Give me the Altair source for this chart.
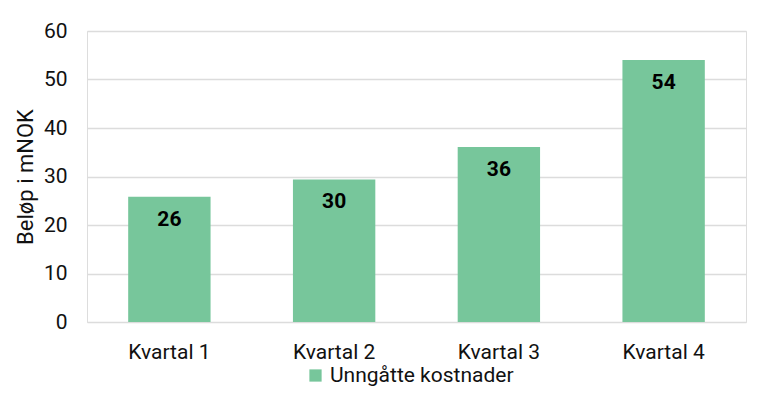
import altair as alt
import pandas as pd

categories = ["Kvartal 1", "Kvartal 2", "Kvartal 3", "Kvartal 4"]
values = [25.8, 29.4, 36.1, 54.0]
labels = ["26", "30", "36", "54"]
series = "Unngåtte kostnader"

df = pd.DataFrame({"kvartal": categories, "verdi": values, "etikett": labels, "serie": [series] * 4})

FONT = "Roboto"

base = alt.Chart(df).encode(
    x=alt.X("kvartal:N", sort=categories, title=None,
            scale=alt.Scale(paddingInner=0.5, paddingOuter=0.25),
            axis=alt.Axis(labelAngle=0, labelFontSize=21, labelColor="#111111", labelFont=FONT,
                          ticks=False, domain=False, labelPadding=19)),
)

bars = base.mark_bar(color="#77c69b").encode(
    y=alt.Y("verdi:Q", title="Beløp i mNOK",
            scale=alt.Scale(domain=[0, 60], nice=False),
            axis=alt.Axis(values=[0, 10, 20, 30, 40, 50, 60], labelFontSize=21, labelColor="#111111",
                          labelFont=FONT, titleFont=FONT, titleFontSize=22, titleFontWeight="normal",
                          titleColor="#111111", ticks=False, domain=False, labelPadding=20,
                          gridColor="#dcdcdc", gridWidth=1.5, titlePadding=6)),
    color=alt.Color("serie:N", scale=alt.Scale(range=["#77c69b"]), title=None,
                    legend=alt.Legend(orient="none", legendX=218, legendY=334, symbolType="square",
                                      symbolSize=150, symbolStrokeWidth=0, labelFontSize=21,
                                      labelFont=FONT, labelColor="#111111", symbolOpacity=1,
                                      labelOffset=4, labelLimit=400)),
)

text = base.mark_text(font=FONT, fontSize=21, fontWeight="bold", color="#000000", baseline="middle", dy=23).encode(
    y="verdi:Q",
    text="etikett:N",
)

chart = (bars + text).properties(
    width=659, height=291,
    padding={"left": 79, "top": 23, "right": 14, "bottom": 64},
    autosize=alt.AutoSizeParams(type="none"),
).configure_view(fill="#f0f0f0", stroke=None).configure(background="white")

chart.save("out.html", embed_options={"renderer": "svg", "actions": False})
